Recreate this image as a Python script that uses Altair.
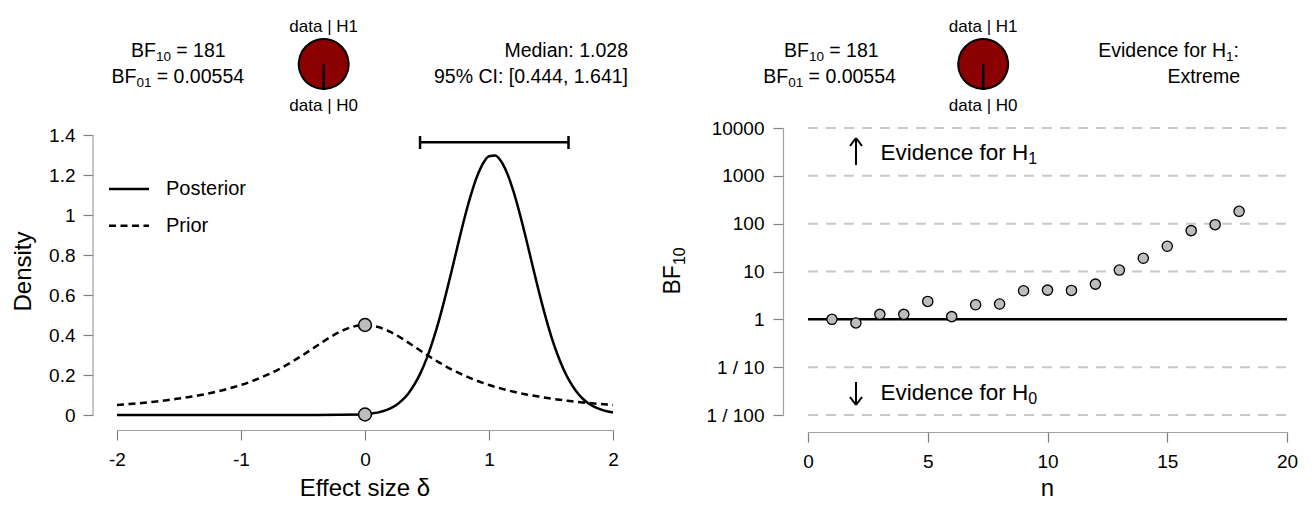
import math
import altair as alt
import pandas as pd

FONT = "Liberation Sans"

# ---------------- data ----------------
prior_delta = [-2.0, -1.9, -1.8, -1.7, -1.6, -1.5, -1.4, -1.3, -1.2, -1.1, -1.0,
               -0.9, -0.8, -0.7, -0.6, -0.5, -0.4, -0.3, -0.2, -0.1, 0.0,
               0.1, 0.2, 0.3, 0.4, 0.5, 0.6, 0.7, 0.8, 0.9, 1.0,
               1.1, 1.2, 1.3, 1.4, 1.5, 1.6, 1.7, 1.8, 1.9, 2.0]
prior_density = [0.050, 0.055, 0.060, 0.066, 0.074, 0.082, 0.092, 0.103, 0.116, 0.132, 0.150,
                 0.172, 0.198, 0.227, 0.262, 0.300, 0.341, 0.382, 0.417, 0.441, 0.450,
                 0.441, 0.417, 0.382, 0.341, 0.300, 0.262, 0.227, 0.198, 0.172, 0.150,
                 0.132, 0.116, 0.103, 0.092, 0.082, 0.074, 0.066, 0.060, 0.055, 0.050]

post_delta = [-2.0, -1.0, -0.5, 0.0, 0.05, 0.10, 0.15, 0.20, 0.25, 0.30, 0.35, 0.40,
              0.45, 0.50, 0.55, 0.60, 0.65, 0.70, 0.75, 0.80, 0.85, 0.90, 0.95, 1.00,
              1.05, 1.10, 1.15, 1.20, 1.25, 1.30, 1.35, 1.40, 1.45, 1.50, 1.55, 1.60,
              1.65, 1.70, 1.75, 1.80, 1.85, 1.90, 1.95, 2.00]
post_density = [0.0, 0.0, 0.0, 0.0025, 0.007, 0.012, 0.020, 0.032, 0.049, 0.074, 0.108, 0.154,
                0.213, 0.287, 0.377, 0.481, 0.598, 0.724, 0.853, 0.979, 1.092, 1.187, 1.256, 1.294,
                1.297, 1.266, 1.203, 1.113, 1.002, 0.879, 0.750, 0.623, 0.504, 0.397, 0.306, 0.230,
                0.169, 0.121, 0.085, 0.059, 0.041, 0.028, 0.019, 0.013]

h0_delta = [0.0, 0.0]
h0_density = [0.450, 0.0025]          # prior and posterior height at delta = 0
ci_low, ci_high = 0.444, 1.641

seq_n = [1, 2, 3, 4, 5, 6, 7, 8, 9, 10, 11, 12, 13, 14, 15, 16, 17, 18]
seq_bf10 = [1.0, 0.84, 1.27, 1.27, 2.37, 1.14, 2.02, 2.09, 3.96, 4.08, 4.02, 5.45,
            10.7, 18.9, 33.7, 71.5, 95.3, 181.0]
grid_levels = [10000, 1000, 100, 10, 0.1, 0.01]
bf_ticks = [0.01, 0.1, 1, 10, 100, 1000, 10000]

pie_hyp = ["H0", "H1"]
pie_prob = [0.0055, 0.9945]          # posterior model probabilities (BF10 = 181)
pie_order = [0, 1]

# ---------------- helpers ----------------
ONE = alt.Data(values=[{}])


def txt(s, x, y, size, align="left", angle=0, baseline="alphabetic"):
    return alt.Chart(ONE).mark_text(
        text=s, font=FONT, fontSize=size, align=align, baseline=baseline,
        angle=angle, color="black"
    ).encode(x=alt.value(x), y=alt.value(y))


def seg(x1, y1, x2, y2, width=2.0, color="black", dash=None):
    kw = dict(color=color, strokeWidth=width)
    if dash:
        kw["strokeDash"] = dash
    return alt.Chart(ONE).mark_rule(**kw).encode(
        x=alt.value(x1), y=alt.value(y1), x2=alt.value(x2), y2=alt.value(y2))


def pie(cx, cy):
    df = pd.DataFrame({"hyp": pie_hyp, "p": pie_prob, "ord": pie_order})
    th0 = math.pi * (1 - pie_prob[0])
    return alt.Chart(df).mark_arc(radius=25, stroke="black", strokeWidth=2).encode(
        theta=alt.Theta("p:Q", stack=True,
                        scale=alt.Scale(range=[th0, th0 + 2 * math.pi])),
        color=alt.Color("hyp:N", scale=alt.Scale(domain=pie_hyp, range=["white", "#8B0000"]),
                        legend=None),
        order=alt.Order("ord:Q"),
        x=alt.value(cx), y=alt.value(cy))


def header(bf_x, bf01_x, pie_x):
    sub = 13.5
    big = 19.5
    return [
        txt("BF", bf_x, -71, big), txt("10", bf_x + 24.9, -67, sub), txt("= 181", bf_x + 45.3, -71, big),
        txt("BF", bf01_x, -45, big), txt("01", bf01_x + 24.9, -41, sub),
        txt("= 0.00554", bf01_x + 45.3, -45, big),
        pie(pie_x, -64),
        txt("data | H1", pie_x, -96.5, 17, align="center"),
        txt("data | H0", pie_x, -17, 17, align="center"),
    ]


W1, W2, H = 496, 479, 287

# ---------------- left panel ----------------
xs1 = alt.Scale(domain=[-2, 2], nice=False, zero=False)
ys1 = alt.Scale(domain=[0, 1.435], nice=False, zero=False)
xax1 = alt.Axis(values=[-2, -1, 0, 1, 2], title=None, offset=15, labelPadding=10,
                labelExpr="datum.value < 0 ? '-' + format(-datum.value, 'd') : format(datum.value, 'd')")
yax1 = alt.Axis(values=[0, 0.2, 0.4, 0.6, 0.8, 1, 1.2, 1.4], title=None, offset=24,
                labelPadding=8, format="~g", domain=False)

prior_df = pd.DataFrame({"delta": prior_delta, "density": prior_density})
post_df = pd.DataFrame({"delta": post_delta, "density": post_density})
pts_df = pd.DataFrame({"delta": h0_delta, "density": h0_density})
ci_df = pd.DataFrame({"lo": [ci_low], "hi": [ci_high]})
dom_df = pd.DataFrame({"y0": [0.0], "y1": [1.4]})

X1 = lambda f: alt.X(f, scale=xs1, axis=xax1)
Y1 = lambda f: alt.Y(f, scale=ys1, axis=yax1)

anchor = alt.Chart(ONE).mark_rule(color="white", strokeWidth=1).encode(
    x=alt.value(-108.5), x2=alt.value(-108), y=alt.value(-119.5), y2=alt.value(-119.5))

prior_line = alt.Chart(prior_df).mark_line(
    color="black", strokeWidth=2.5, strokeDash=[7, 4.5], interpolate="monotone"
).encode(x=X1("delta:Q"), y=Y1("density:Q"))
post_line = alt.Chart(post_df).mark_line(
    color="black", strokeWidth=2.5, interpolate="monotone"
).encode(x=X1("delta:Q"), y=Y1("density:Q"))
pts1 = alt.Chart(pts_df).mark_circle(
    color="#bdbdbd", stroke="black", strokeWidth=1.5, size=165, opacity=1
).encode(x=X1("delta:Q"), y=Y1("density:Q"))
ci_bar = alt.Chart(ci_df).mark_rule(color="black", strokeWidth=2.5).encode(
    x=X1("lo:Q"), x2="hi:Q", y=alt.value(14.3))
ci_lo = alt.Chart(ci_df).mark_rule(color="black", strokeWidth=2.5).encode(
    x=X1("lo:Q"), y=alt.value(8), y2=alt.value(21))
ci_hi = alt.Chart(ci_df).mark_rule(color="black", strokeWidth=2.5).encode(
    x=X1("hi:Q"), y=alt.value(8), y2=alt.value(21))
ydom = alt.Chart(dom_df).mark_rule(color="#a0a0a0", strokeWidth=1.2).encode(
    x=alt.value(-24), y=Y1("y0:Q"), y2="y1:Q")

left_layers = [anchor, ydom, prior_line, post_line, pts1, ci_bar, ci_lo, ci_hi,
               seg(-8, 61, 32, 61, 2.5), seg(-8, 97.7, 32, 97.7, 2.5, dash=[7, 4.5]),
               txt("Posterior", 49, 67.2, 20), txt("Prior", 49, 104.2, 20),
               txt("Median: 1.028", 511, -71, 19.5, align="right"),
               txt("95% CI: [0.444, 1.641]", 511, -45, 19.5, align="right"),
               txt("Density", -86.4, 143.5, 24, align="center", angle=270),
               txt("Effect size \u03b4", 248, 368, 24, align="center")]
left_layers += header(14, -5.5, 206.7)
left = alt.layer(*left_layers).properties(width=W1, height=H)

# ---------------- right panel ----------------
xs2 = alt.Scale(domain=[0, 20], nice=False, zero=False)
ys2 = alt.Scale(type="log", domain=[0.01, 10000], nice=False)
xax2 = alt.Axis(values=[0, 5, 10, 15, 20], title=None, offset=17, labelPadding=10, format="d")
yax2 = alt.Axis(values=bf_ticks, title=None, offset=25, labelPadding=9,
                labelExpr="datum.value >= 1 ? format(datum.value, 'd') : '1 / ' + format(1 / datum.value, 'd')")

X2 = lambda f: alt.X(f, scale=xs2, axis=xax2)
Y2 = lambda f: alt.Y(f, scale=ys2, axis=yax2)

seq_df = pd.DataFrame({"n": seq_n, "bf": seq_bf10})
grid_df = pd.DataFrame({"level": grid_levels})
one_df = pd.DataFrame({"level": [1]})

grid = alt.Chart(grid_df).mark_rule(color="#c8c8c8", strokeWidth=2, strokeDash=[10, 8]).encode(
    y=Y2("level:Q"), x=alt.value(0), x2=alt.value(W2))
ref1 = alt.Chart(one_df).mark_rule(color="black", strokeWidth=2.5).encode(
    y=Y2("level:Q"), x=alt.value(0), x2=alt.value(W2))
pts2 = alt.Chart(seq_df).mark_circle(
    color="#bdbdbd", stroke="black", strokeWidth=1.3, size=105, opacity=1
).encode(x=X2("n:Q"), y=Y2("bf:Q"))

ev = 22.5
right_layers = [grid, ref1, pts2,
                seg(48, 37, 48, 10), seg(48, 10, 42, 18), seg(48, 10, 54, 18),
                seg(48, 254, 48, 277), seg(48, 277, 42, 269), seg(48, 277, 54, 269),
                txt("Evidence for H", 72.6, 31.9, ev), txt("1", 72.6 + 6.558 * ev, 36.4, 16),
                txt("Evidence for H", 72.6, 271.9, ev), txt("0", 72.6 + 6.558 * ev, 276.4, 16),
                txt("Evidence for H", 290.2, -71, 19.5), txt("1", 418.1, -67, 13.5),
                txt(":", 425.6, -71, 19.5),
                txt("Extreme", 432, -45, 19.5, align="right"),
                txt("BF", -127.8, 166.5, 23, angle=270),
                txt("10", -123.3, 166.5 - 1.278 * 23, 16, angle=270),
                txt("n", 239.5, 368, 24, align="center")]
right_layers += header(-24, -44.7, 175.2)
right = alt.layer(*right_layers).properties(width=W2, height=H)

chart = alt.hconcat(left, right, spacing=195, bounds="flush", padding=0).configure_view(
    strokeWidth=0
).configure_axis(
    labelFont=FONT, labelFontSize=19, labelColor="black",
    tickColor="#808080", domainColor="#a0a0a0", tickWidth=1.2, domainWidth=1.2,
    tickSize=10, labelFlush=False, labelOverlap=False, grid=False
)

chart.save("out.html", embed_options={"renderer": "svg", "actions": False})
